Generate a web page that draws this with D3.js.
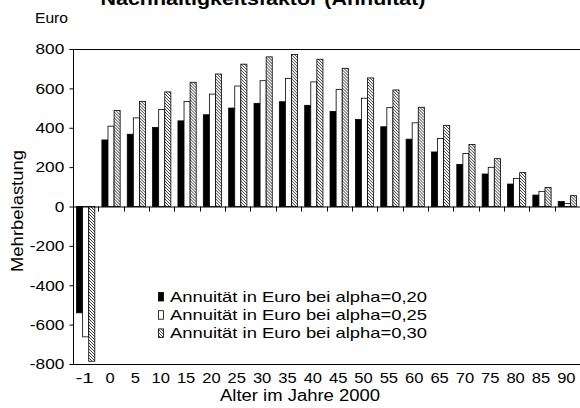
<!DOCTYPE html>
<html>
<head>
<meta charset="utf-8">
<script src="https://cdn.jsdelivr.net/npm/d3@7"></script>
<style>
  body { margin: 0; background: #fff; }
  svg { display: block; font-family: "Liberation Sans", Arial, sans-serif; }
</style>
</head>
<body>
<div id="chart"></div>
<script>
// Daten
let kategorien = ["-1", "0", "5", "10", "15", "20", "25", "30", "35", "40", "45", "50", "55", "60", "65", "70", "75", "80", "85", "90"];
let alpha20 = [-540, 338, 367, 401, 435, 466, 500, 524, 532, 514, 483, 442, 405, 342, 277, 214, 165, 114, 58, 25];
let alpha25 = [-662, 408, 450, 493, 534, 571, 612, 639, 651, 633, 595, 550, 502, 425, 345, 269, 199, 143, 77, 15];
let alpha30 = [-786, 488, 534, 582, 631, 673, 723, 760, 772, 748, 702, 653, 592, 504, 412, 315, 243, 172, 97, 55];
let serien = ["Annuität in Euro bei alpha=0,20", "Annuität in Euro bei alpha=0,25", "Annuität in Euro bei alpha=0,30"];
let yTicks = [800, 600, 400, 200, 0, -200, -400, -600, -800];

let width = 580,
  height = 408;

let svg = d3.select("#chart")
  .append("svg")
  .attr("width", width)
  .attr("height", height);

// Schraffur für die dritte Reihe
let defs = svg.append("defs");
let pat = defs.append("pattern")
  .attr("id", "schraffur")
  .attr("patternUnits", "userSpaceOnUse")
  .attr("width", 3)
  .attr("height", 3);
pat.append("rect").attr("width", 3).attr("height", 3).attr("fill", "#fff");
pat.append("path")
  .attr("d", "M-1,-1 L4,4 M-1,2 L1,4 M2,-1 L4,1")
  .attr("stroke", "#222")
  .attr("stroke-width", 0.9);

let fuellung = ["#000", "#fff", "url(#schraffur)"];

let links = 73, rechts = 580, oben = 49, unten = 364;

let x0 = d3.scaleBand()
  .domain(kategorien)
  .range([links, rechts])
  .padding(0);

let bw = x0.bandwidth();
let x1 = d3.scaleBand()
  .domain([0, 1, 2])
  .range([bw * 0.14, bw * 0.86])
  .padding(0);

let y = d3.scaleLinear()
  .domain([-800, 800])
  .range([unten, oben]);

let daten = kategorien.map(function(k, i) {
  return { kat: k, werte: [alpha20[i], alpha25[i], alpha30[i]] };
});

// Rahmen oben und unten
svg.append("line")
  .attr("x1", links).attr("x2", rechts)
  .attr("y1", oben + 0.5).attr("y2", oben + 0.5)
  .attr("stroke", "#000");
svg.append("line")
  .attr("x1", links).attr("x2", rechts)
  .attr("y1", unten + 0.5).attr("y2", unten + 0.5)
  .attr("stroke", "#000");

// Balken
let gruppen = svg.selectAll("g.gruppe")
  .data(daten)
  .enter()
  .append("g")
  .attr("class", "gruppe")
  .attr("transform", function(d) { return "translate(" + x0(d.kat) + ",0)"; });

gruppen.selectAll("rect")
  .data(function(d) { return d.werte; })
  .enter()
  .append("rect")
  .attr("x", function(d, i) { return x1(i); })
  .attr("y", function(d) { return y(Math.max(0, d)); })
  .attr("width", x1.bandwidth())
  .attr("height", function(d) { return Math.abs(y(d) - y(0)); })
  .attr("fill", function(d, i) { return fuellung[i]; })
  .attr("stroke", "#000")
  .attr("stroke-width", 0.8);

// y-Achse (mit normalem Bindestrich als Minus)
let yAchse = d3.axisLeft(y)
  .tickValues(yTicks)
  .tickSize(4)
  .tickPadding(4)
  .tickFormat(function(d) { return String(d); });

svg.append("g")
  .attr("transform", "translate(" + (links + 0.5) + ",0)")
  .call(yAchse)
  .call(function(g) {
    g.select(".domain").attr("d", "M-4," + (oben + 0.5) + "H0V" + (unten + 0.5));
    g.selectAll("text")
      .attr("font-size", 15)
      .attr("font-family", "Liberation Sans, Arial, sans-serif")
      .attr("fill", "#000")
      .attr("transform", "scale(1.15,1)");
  });

// Nulllinie mit Strichen zwischen den Gruppen
let grenzen = kategorien.slice(1).map(function(k) { return x0(k); });
svg.append("line")
  .attr("x1", links).attr("x2", rechts)
  .attr("y1", y(0) + 0.5).attr("y2", y(0) + 0.5)
  .attr("stroke", "#000");
svg.selectAll("line.xtick")
  .data(grenzen)
  .enter()
  .append("line")
  .attr("class", "xtick")
  .attr("x1", function(d) { return Math.round(d) + 0.5; })
  .attr("x2", function(d) { return Math.round(d) + 0.5; })
  .attr("y1", y(0))
  .attr("y2", y(0) + 5)
  .attr("stroke", "#000");

// Beschriftung der x-Achse
svg.selectAll("text.xlabel")
  .data(kategorien)
  .enter()
  .append("text")
  .attr("class", "xlabel")
  .attr("x", function(d) { return x0(d) + bw / 2 - 1; })
  .attr("y", 383)
  .attr("text-anchor", "middle")
  .attr("font-size", 15)
  .attr("textLength", function(d) { return d.length * 9.2; })
  .attr("lengthAdjust", "spacingAndGlyphs")
  .text(function(d) { return d; });

// Titel und Achsentitel
svg.append("text")
  .attr("x", 263)
  .attr("y", 5)
  .attr("text-anchor", "middle")
  .attr("font-size", 18)
  .attr("font-weight", "bold")
  .attr("textLength", 325)
  .attr("lengthAdjust", "spacingAndGlyphs")
  .text("Nachhaltigkeitsfaktor (Annuität)");

svg.append("text")
  .attr("x", 35)
  .attr("y", 23)
  .attr("font-size", 15)
  .attr("textLength", 33)
  .attr("lengthAdjust", "spacingAndGlyphs")
  .text("Euro");

svg.append("text")
  .attr("x", 300)
  .attr("y", 401)
  .attr("text-anchor", "middle")
  .attr("font-size", 16)
  .attr("textLength", 160)
  .attr("lengthAdjust", "spacingAndGlyphs")
  .text("Alter im Jahre 2000");

svg.append("text")
  .attr("transform", "translate(23,211) rotate(-90)")
  .attr("text-anchor", "middle")
  .attr("font-size", 16)
  .attr("textLength", 122)
  .attr("lengthAdjust", "spacingAndGlyphs")
  .text("Mehrbelastung");

// Legende
let legende = svg.selectAll("g.legende")
  .data(serien)
  .enter()
  .append("g")
  .attr("class", "legende")
  .attr("transform", function(d, i) { return "translate(158," + (301.5 + i * 18.2) + ")"; });

legende.append("rect")
  .attr("x", 0.5)
  .attr("y", -9)
  .attr("width", 5)
  .attr("height", 8.5)
  .attr("fill", function(d, i) { return fuellung[i]; })
  .attr("stroke", "#000")
  .attr("stroke-width", 0.8);

legende.append("text")
  .attr("x", 12)
  .attr("y", 0)
  .attr("font-size", 15)
  .attr("textLength", 257)
  .attr("lengthAdjust", "spacingAndGlyphs")
  .text(function(d) { return d; });
</script>
</body>
</html>
